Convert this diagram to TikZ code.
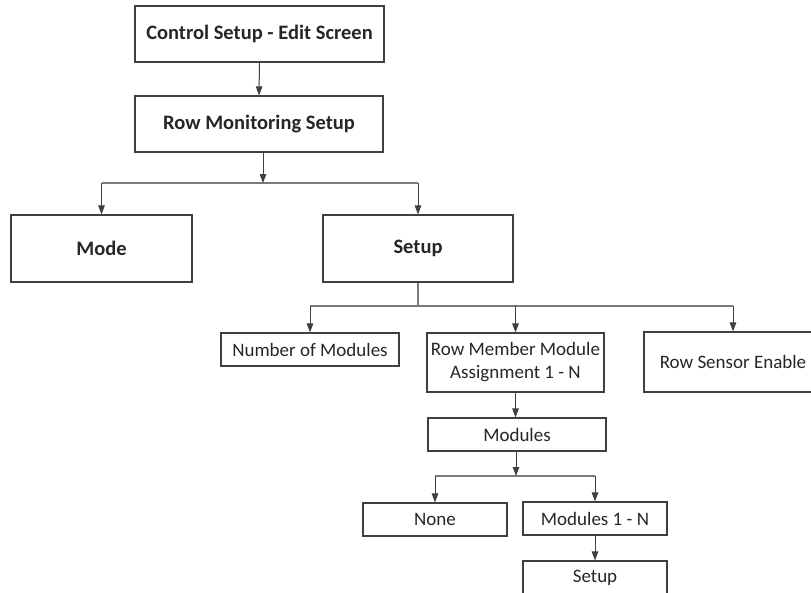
\documentclass[tikz,border=0pt]{standalone}
\usepackage{fontspec}
\setmainfont{Carlito}
\usetikzlibrary{arrows.meta}
\definecolor{linec}{HTML}{404040}
\definecolor{linel}{HTML}{7A7A7A}
\definecolor{txt}{HTML}{262626}
\tikzset{
  box/.style={draw=linec, line width=1.1pt, rectangle, inner sep=0pt, align=center, text=txt, font=\fontsize{19}{23}\selectfont},
  bbox/.style={box, font=\fontsize{20.5}{24}\selectfont\bfseries},
  arr/.style={draw=linec, line width=1pt, -{Triangle[length=9pt,width=6.5pt]}},
  ln/.style={draw=linel, line width=1.2pt},
}
\begin{document}
\begin{tikzpicture}[x=1pt,y=-1pt]
\useasboundingbox (0,0) rectangle (811,592);
% nodes
\node[bbox, minimum width=249pt, minimum height=56pt] (cs) at (259.5,34) {Control Setup - Edit Screen};
\node[bbox, minimum width=248pt, minimum height=56pt] (rm) at (259,124) {Row Monitoring Setup};
\node[bbox, minimum width=181pt, minimum height=67pt] (mode) at (101.5,248.5) {Mode};
\node[bbox, minimum width=190pt, minimum height=67pt] (setup) at (418,248.5) {Setup};
\node[box, minimum width=178pt, minimum height=33pt] (num) at (310,349.5) {Number of Modules};
\node[box, minimum width=177pt, minimum height=59pt] (rmm) at (515.5,362.5) {Row Member Module\\Assignment 1 - N};
\node[box, minimum width=178pt, minimum height=60pt] (rse) at (733,362) {Row Sensor Enable};
\node[box, minimum width=178pt, minimum height=33pt] (mods) at (517,434.5) {Modules};
\node[box, minimum width=144pt, minimum height=33pt] (none) at (435,519.5) {None};
\node[box, minimum width=144pt, minimum height=33pt] (m1n) at (595,518.5) {Modules 1 - N};
\node[box, minimum width=144pt, minimum height=34pt] (sus) at (595,578) {Setup};
% junctions
\coordinate (j1) at (263,183);
\coordinate (j2) at (418,306);
\coordinate (j3) at (516,476);
% connectors
\draw[arr] (cs.south) -- (rm.north);
\draw[ln] (mode.north |- j1) -- (setup.north |- j1);
\draw[arr] (rm.south -| j1) -- (j1);
\draw[arr] (mode.north |- j1) -- (mode.north);
\draw[arr] (setup.north |- j1) -- (setup.north);
\draw[ln] (setup.south) -- (j2);
\draw[ln] (num.north |- j2) -- (rse.north |- j2);
\draw[arr] (num.north |- j2) -- (num.north);
\draw[arr] (rmm.north |- j2) -- (rmm.north);
\draw[arr] (rse.north |- j2) -- (rse.north);
\draw[arr] (rmm.south) -- (rmm.south |- mods.north);
\draw[ln] (none.north |- j3) -- (m1n.north |- j3);
\draw[arr] (mods.south -| j3) -- (j3);
\draw[arr] (none.north |- j3) -- (none.north);
\draw[arr] (m1n.north |- j3) -- (m1n.north);
\draw[arr] (m1n.south) -- (sus.north);
\end{tikzpicture}
\end{document}
